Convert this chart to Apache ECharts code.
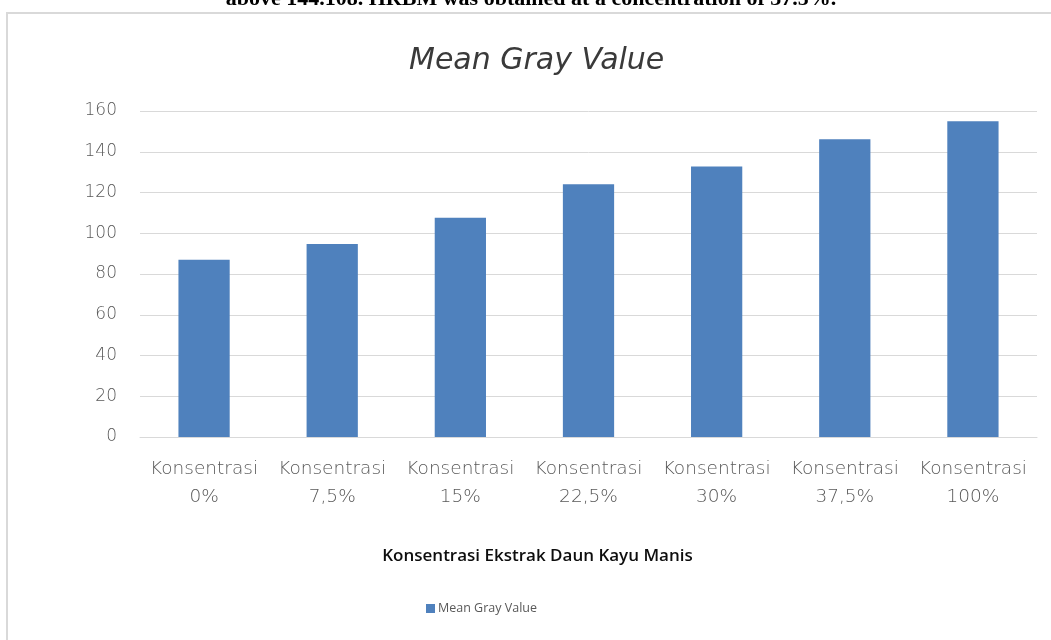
<!DOCTYPE html>
<html>
<head>
<meta charset="utf-8">
<script src="https://cdn.jsdelivr.net/npm/echarts@6/dist/echarts.min.js"></script>
<style>
html,body{margin:0;padding:0;background:#fff;}
#c{width:1051px;height:640px;}
</style>
</head>
<body>
<div id="c"></div>
<script>
const categories = ['Konsentrasi\n0%','Konsentrasi\n7,5%','Konsentrasi\n15%','Konsentrasi\n22,5%','Konsentrasi\n30%','Konsentrasi\n37,5%','Konsentrasi\n100%'];
const meanGrayValues = [87, 94.7, 107.6, 124.1, 132.7, 146.1, 155];
const yTicks = {min: 0, max: 160, interval: 20};
const seriesName = 'Mean Gray Value';
const chartTitle = 'Mean Gray Value';
const xAxisTitle = 'Konsentrasi Ekstrak Daun Kayu Manis';
const captionText = 'above 144.108. HRBM was obtained at a concentration of 37.5%.';

const chart = echarts.init(document.getElementById('c'), null, {renderer: 'canvas'});
const labelFont = "'DejaVu Sans', sans-serif";
chart.setOption({
  animation: false,
  backgroundColor: '#ffffff',
  title: {
    text: chartTitle,
    left: 404,
    top: 41,
    textStyle: {fontFamily: labelFont, fontStyle: 'italic', fontWeight: 'normal', fontSize: 30, color: '#3a3a3a'}
  },
  graphic: [
    {type: 'rect', shape: {x: 7, y: 13, width: 1060, height: 640}, style: {fill: 'none', stroke: '#d9d9d9', lineWidth: 2}, z: -1},
    {type: 'text', x: 531, y: 10, style: {text: captionText, align: 'center', verticalAlign: 'bottom', font: "bold 22px 'Liberation Serif', serif", fill: '#000'}}
  ],
  legend: {
    data: [seriesName],
    left: 421,
    top: 597,
    itemWidth: 9,
    itemHeight: 9,
    icon: 'rect',
    itemGap: 5,
    textStyle: {fontFamily: "'Open Sans', sans-serif", fontSize: 12.5, color: '#595959', padding: [0, 0, 0, -2]}
  },
  grid: {left: 140, right: 14, top: 111, height: 326, containLabel: false},
  xAxis: {
    type: 'category',
    data: categories,
    name: xAxisTitle,
    nameLocation: 'middle',
    nameGap: 111,
    nameTextStyle: {fontFamily: "'Open Sans', sans-serif", fontSize: 17, fontWeight: 600, color: '#0d0d0d', padding: [0, 102, 0, 0]},
    axisLine: {show: true, lineStyle: {color: '#d9d9d9', width: 1}},
    axisTick: {show: false},
    axisLabel: {interval: 0, margin: 18, lineHeight: 28, fontFamily: labelFont, fontWeight: 200, fontSize: 18.5, color: '#595959'}
  },
  yAxis: {
    type: 'value',
    min: yTicks.min,
    max: yTicks.max,
    interval: yTicks.interval,
    axisLine: {show: false},
    axisTick: {show: false},
    axisLabel: {margin: 23, fontFamily: labelFont, fontWeight: 200, fontSize: 17, color: '#595959'},
    splitLine: {lineStyle: {color: '#d9d9d9', width: 1}}
  },
  series: [{
    name: seriesName,
    type: 'bar',
    data: meanGrayValues,
    barWidth: '40%',
    itemStyle: {color: '#4f81bd'}
  }]
});
</script>
</body>
</html>
